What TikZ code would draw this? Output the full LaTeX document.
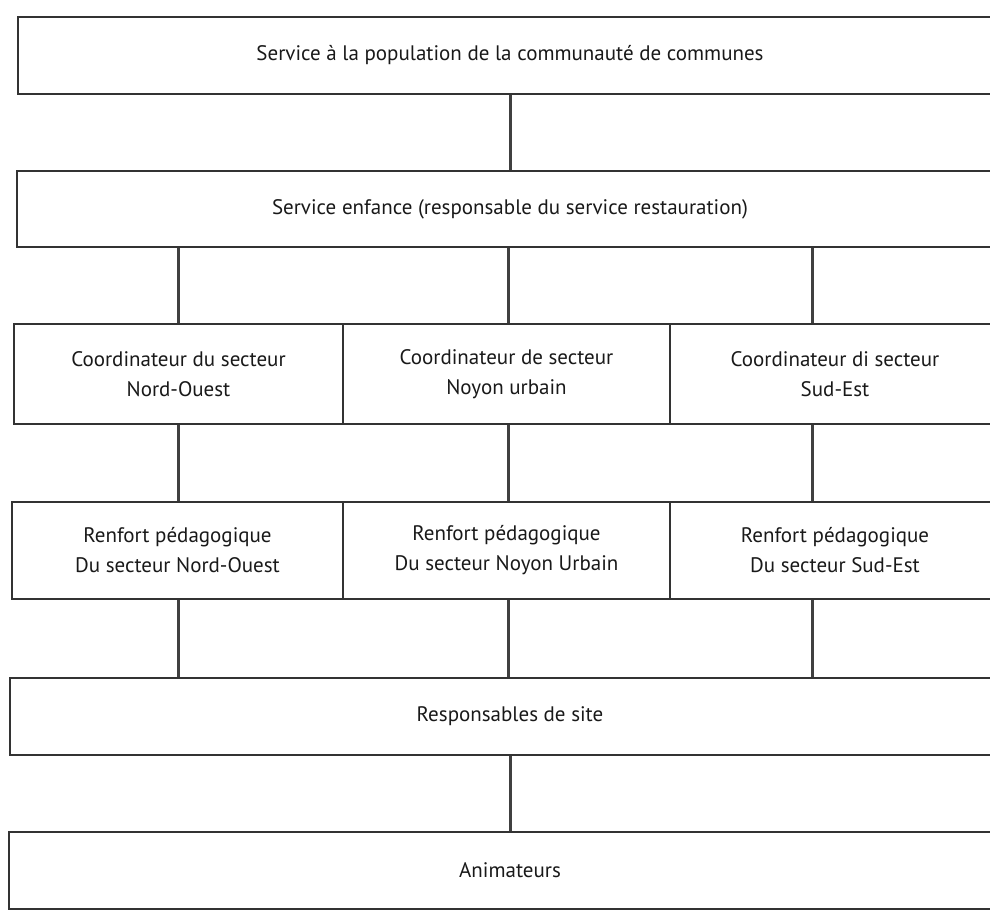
\documentclass[tikz,border=0pt]{standalone}
\usepackage{fontspec}
\setmainfont{PT Sans}

\begin{document}
\begin{tikzpicture}[x=1pt, y=-1pt,
  every node/.style={font=\fontsize{21}{30}\selectfont, text=black!90},
  cadre/.style={draw=black!80, line width=1.3pt, inner sep=0pt, align=center},
  lien/.style={draw=black!75, line width=3pt}]
  \useasboundingbox (0,0) rectangle (990,912);
  \clip (0,0) rectangle (990,912);

  % axes des traits verticaux
  \coordinate (axNO) at (178,0);
  \coordinate (axNU) at (508,0);
  \coordinate (axSE) at (812,0);

  % niveaux pleine largeur
  \node[cadre, minimum width=984pt, minimum height=77pt] (pop) at (510,55.5)
    {Service à la population de la communauté de communes};
  \node[cadre, minimum width=986pt, minimum height=76pt] (enf) at (510,209)
    {Service enfance (responsable du service restauration)};

  % coordinateurs de secteur
  \node[cadre, minimum width=329pt, minimum height=100pt] (coNO) at (178.5,374)
    {Coordinateur du secteur\\Nord-Ouest};
  \node[cadre, minimum width=327pt, minimum height=100pt] (coNU) at (506.5,374)
    {Coordinateur de secteur\\Noyon urbain};
  \node[cadre, minimum width=330pt, minimum height=100pt] (coSE) at (835,374)
    {Coordinateur di secteur\\Sud-Est};

  % renforts pedagogiques
  \node[cadre, minimum width=331pt, minimum height=97pt] (reNO) at (177.5,550.5)
    {Renfort pédagogique\\Du secteur Nord-Ouest};
  \node[cadre, minimum width=327pt, minimum height=97pt] (reNU) at (506.5,550.5)
    {Renfort pédagogique\\Du secteur Noyon Urbain};
  \node[cadre, minimum width=330pt, minimum height=97pt] (reSE) at (835,550.5)
    {Renfort pédagogique\\Du secteur Sud-Est};

  % bas de l'organigramme
  \node[cadre, minimum width=1000pt, minimum height=77pt] (resp) at (510,716.5)
    {Responsables de site};
  \node[cadre, minimum width=1002pt, minimum height=77pt] (anim) at (510,870.5)
    {Animateurs};

  % traits
  \draw[lien] (pop) -- (enf);
  \foreach \s in {NO,NU,SE} {
    \draw[lien] (enf.south -| ax\s) -- (co\s.north -| ax\s);
    \draw[lien] (co\s.south -| ax\s) -- (re\s.north -| ax\s);
    \draw[lien] (re\s.south -| ax\s) -- (resp.north -| ax\s);
  }
  \draw[lien] (resp) -- (anim);
\end{tikzpicture}
\end{document}
